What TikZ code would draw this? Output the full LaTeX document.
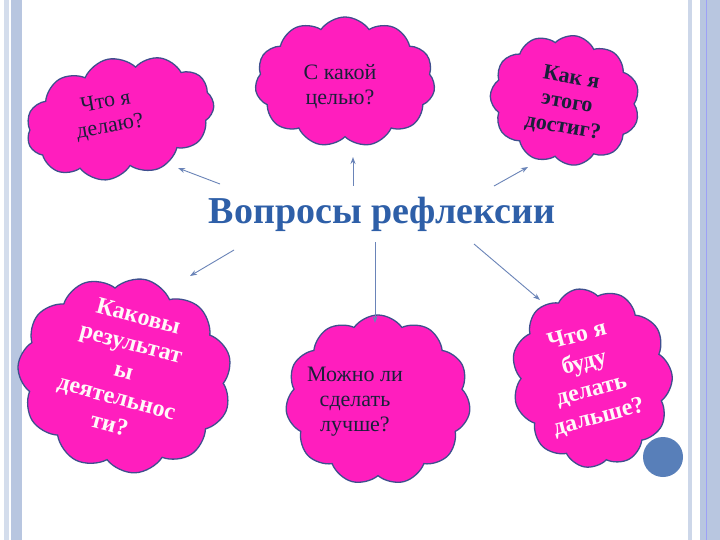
\documentclass[tikz,border=0pt]{standalone}
\usepackage{fontspec}
\setmainfont{Liberation Serif}
\usetikzlibrary{shapes.symbols,arrows.meta}
\definecolor{pinkc}{HTML}{FF1EBE}
\definecolor{edgec}{HTML}{3F4F8E}
\definecolor{barc}{HTML}{B8C6E0}
\definecolor{arrc}{HTML}{6A84B8}
\definecolor{titc}{HTML}{2E5FA8}
\begin{document}
\begin{tikzpicture}[x=1pt,y=-1pt,
  cl/.style={cloud, cloud puffs=11, cloud puff arc=110, aspect=1.3, fill=pinkc, draw=edgec, line width=1.3pt, inner sep=0pt},
  tx/.style={text=white!90!pink, font=\bfseries\fontsize{24}{28}\selectfont, align=center},
  tx2/.style={text=edgec!40!black, font=\fontsize{22}{25}\selectfont, align=center},
  arr/.style={draw=arrc, line width=0.9pt, -{Stealth[length=7pt,width=5pt]}}]
\useasboundingbox (0,0) rectangle (720,540);
\fill[white] (0,0) rectangle (720,540);
% borders
\fill[barc!60] (4,0) rectangle (9,540);
\fill[barc] (11,0) rectangle (22,540);
\fill[barc!70] (688,0) rectangle (692,540);
\fill[barc] (700,0) rectangle (720,540);
\draw[barc!50!blue!60, line width=0.6pt] (706,0) -- (706,540);
\fill[titc!80] (663,457) circle (20);
% clouds
\node[cl, minimum width=190, minimum height=120, rotate=12] (c1) at (120,118) {};
\node[cl, minimum width=180, minimum height=130] (c2) at (345,82) {};
\node[cl, minimum width=150, minimum height=130, rotate=-10] (c3) at (565,100) {};
\node[cl, minimum width=215, minimum height=195, rotate=-12] (c4) at (125,375) {};
\node[cl, minimum width=185, minimum height=170] (c5) at (378,400) {};
\node[cl, minimum width=160, minimum height=180, rotate=10] (c6) at (592,378) {};
% texts
\node[tx2, rotate=10] (t1) at (108,115) {Что я\\ делаю?};
\node[tx2] (t2) at (340,87) {С какой\\ целью?};
\node[tx2, rotate=-10, font=\bfseries\fontsize{22}{25}\selectfont] (t3) at (567,103) {Как я\\ этого\\ достиг?};
\node[tx, rotate=-15] (t4) at (124,370) {Каковы\\ результат\\ ы\\ деятельнос\\ ти?};
\node[tx2] (t5) at (355,402) {Можно ли\\ сделать\\ лучше?};
\node[tx, rotate=15] (t6) at (588,377) {Что я\\ буду\\ делать\\ дальше?};
% title
\node[text=titc, font=\bfseries\fontsize{38}{40}\selectfont] (title) at (382,214) {Вопросы рефлексии};
% arrows
\coordinate (a1) at (220,184); \coordinate (b1) at (178,168);
\coordinate (a2) at (353,186); \coordinate (b2) at (353,157);
\coordinate (a3) at (494,186); \coordinate (b3) at (528,167);
\coordinate (a4) at (234,250); \coordinate (b4) at (190,276);
\coordinate (a5) at (375,242); \coordinate (b5) at (375,323);
\coordinate (a6) at (474,244); \coordinate (b6) at (540,300);
\draw[arr] (a1) -- (b1);
\draw[arr] (a2) -- (b2);
\draw[arr] (a3) -- (b3);
\draw[arr] (a4) -- (b4);
\draw[arr] (a5) -- (b5);
\draw[arr] (a6) -- (b6);
\end{tikzpicture}
\end{document}
